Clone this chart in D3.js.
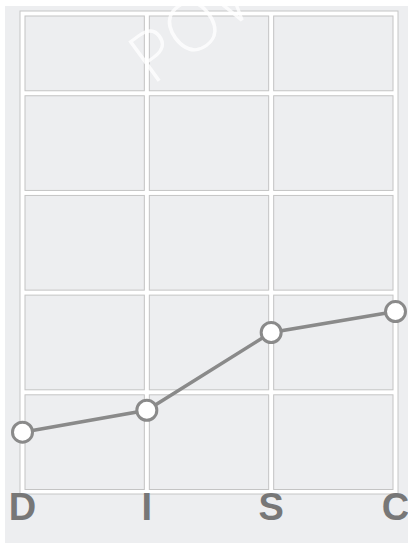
<!DOCTYPE html>
<html>
<head>
<meta charset="utf-8">
<script src="https://cdn.jsdelivr.net/npm/d3@7"></script>
<style>
  html, body { margin: 0; padding: 0; background: #fff; }
  svg { display: block; }
</style>
</head>
<body>
<svg id="chart" width="408" height="543"></svg>
<script>
// data
const categories = ["D", "I", "S", "C"];
const values = [0.6, 0.82, 1.6, 1.81];
const rowBreaks = [0, 1, 2, 3, 4, 4.8];

const svg = d3.select("#chart");

// light gray panel behind everything
svg.append("rect")
  .attr("x", 5).attr("y", 6)
  .attr("width", 403).attr("height", 537)
  .attr("fill", "#edeef0");

const x = d3.scalePoint().domain(categories).range([22.5, 395.5]);
const y = d3.scaleLinear().domain([0, 4.8]).range([492, 13.5]);

// outer frame
svg.append("rect")
  .attr("x", 20).attr("y", 11)
  .attr("width", 378).attr("height", 483)
  .attr("fill", "#fff")
  .attr("stroke", "#c6c6c6")
  .attr("stroke-width", 1);

// cells between grid lines
const cols = d3.pairs(categories.map(c => x(c)));
const rows = d3.pairs(rowBreaks.map(v => y(v)));
const cells = [];
cols.forEach(c => rows.forEach(r => cells.push({ x0: c[0], x1: c[1], y0: r[1], y1: r[0] })));

const gap = 2.5;
svg.append("g").selectAll("rect")
  .data(cells)
  .join("rect")
  .attr("x", d => d.x0 + gap)
  .attr("y", d => d.y0 + gap)
  .attr("width", d => d.x1 - d.x0 - gap * 2)
  .attr("height", d => d.y1 - d.y0 - gap * 2)
  .attr("fill", "#edeef0")
  .attr("stroke", "#c4c4c4")
  .attr("stroke-width", 1);

// faint watermark, runs off the top edge like the original
svg.append("text")
  .attr("transform", "translate(152,86) rotate(-36)")
  .attr("font-family", "'Open Sans', sans-serif")
  .attr("font-size", 70)
  .attr("font-weight", 300)
  .attr("fill", "#fff")
  .attr("opacity", 0.8)
  .text("POW");

// line
const pts = categories.map((c, i) => [x(c), y(values[i])]);
svg.append("path")
  .attr("d", d3.line()(pts))
  .attr("fill", "none")
  .attr("stroke", "#8a8a8a")
  .attr("stroke-width", 3.5);

svg.append("g").selectAll("circle")
  .data(pts)
  .join("circle")
  .attr("cx", d => d[0])
  .attr("cy", d => d[1])
  .attr("r", 10)
  .attr("fill", "#fff")
  .attr("stroke", "#8a8a8a")
  .attr("stroke-width", 3);

// category labels
svg.append("g").selectAll("text")
  .data(categories)
  .join("text")
  .attr("x", d => x(d))
  .attr("y", 520)
  .attr("text-anchor", "middle")
  .attr("font-family", "'Liberation Sans', Arial, sans-serif")
  .attr("font-weight", "bold")
  .attr("font-size", 38)
  .attr("fill", "#777")
  .text(d => d);
</script>
</body>
</html>
